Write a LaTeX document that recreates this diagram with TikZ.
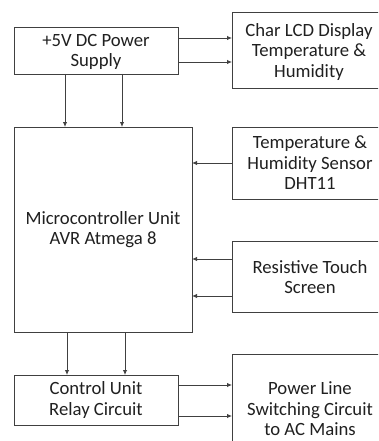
\documentclass[tikz,border=0pt]{standalone}
\usepackage{fontspec}
\setmainfont{Carlito}
\usetikzlibrary{arrows.meta}
\definecolor{linec}{HTML}{404040}
\definecolor{textc}{HTML}{202020}
\begin{document}
\begin{tikzpicture}[x=1pt,y=-1pt,
  blk/.style={draw=linec, line width=0.9pt, fill=white, inner sep=0pt},
  lbl/.style={align=center, text=textc, font=\fontsize{18.7}{20.5}\selectfont},
  arr/.style={draw=linec, line width=0.9pt, -{Latex[length=5pt,width=4.5pt]}}]
\useasboundingbox (0,0) rectangle (378,441);
\fill[white] (0,0) rectangle (378,441);
\clip (0,0) rectangle (378,441);
% boxes
\draw[blk] (14,27) rectangle (178,74);
\node[lbl] (pst) at (96,52) {+5V DC Power\\Supply};
\draw[blk] (232,12) rectangle (386,88);
\node[lbl] (lcdt) at (309,52) {Char LCD Display\\Temperature \&\\Humidity};
\draw[blk] (14,127) rectangle (192,332);
\node[lbl] (mcut) at (103,229.5) {Microcontroller Unit\\AVR Atmega 8};
\draw[blk] (232,127) rectangle (386,199);
\node[lbl] (dht) at (310,163) {Temperature \&\\Humidity Sensor\\DHT11};
\draw[blk] (232,241) rectangle (386,312);
\node[lbl] (touch) at (310,277) {Resistive Touch\\Screen};
\draw[blk] (14,375) rectangle (178,425);
\node[lbl] (ctrl) at (96,400) {Control Unit\\Relay Circuit};
\draw[blk] (232,354) rectangle (386,470);
\node[lbl] (pl) at (310,409) {Power Line\\Switching Circuit\\to AC Mains};
% connector endpoints
\coordinate (ps1) at (178,38);  \coordinate (lcd1) at (232,38);
\coordinate (ps2) at (178,62);  \coordinate (lcd2) at (232,62);
\coordinate (psd1) at (65,74);  \coordinate (mcu1) at (65,127);
\coordinate (psd2) at (122,74); \coordinate (mcu2) at (122,127);
\coordinate (dhtl) at (232,163); \coordinate (mcu3) at (192,163);
\coordinate (tl1) at (232,259); \coordinate (mcu4) at (192,259);
\coordinate (tl2) at (232,296); \coordinate (mcu5) at (192,296);
\coordinate (mcub1) at (67,332);  \coordinate (ct1) at (67,375);
\coordinate (mcub2) at (125,332); \coordinate (ct2) at (125,375);
\coordinate (ctr1) at (178,385); \coordinate (pl1) at (232,385);
\coordinate (ctr2) at (178,416); \coordinate (pl2) at (232,416);
% connectors
\draw[arr] (ps1) -- (lcd1);
\draw[arr] (ps2) -- (lcd2);
\draw[arr] (psd1) -- (mcu1);
\draw[arr] (psd2) -- (mcu2);
\draw[arr] (dhtl) -- (mcu3);
\draw[arr] (tl1) -- (mcu4);
\draw[arr] (tl2) -- (mcu5);
\draw[arr] (mcub1) -- (ct1);
\draw[arr] (mcub2) -- (ct2);
\draw[arr] (ctr1) -- (pl1);
\draw[arr] (ctr2) -- (pl2);
\end{tikzpicture}
\end{document}
